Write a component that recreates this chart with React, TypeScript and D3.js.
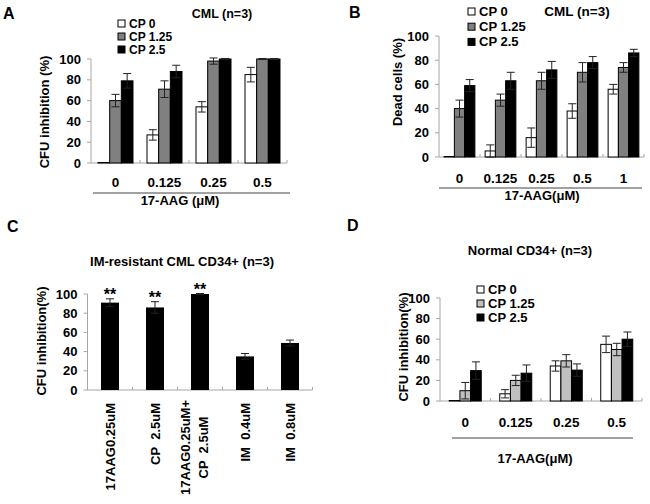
import React from 'react';
import * as d3 from 'd3';

const FONT = '"Liberation Sans", Arial, sans-serif';
const AXIS = '#a6a6a6';

const seriesNames = ['CP 0', 'CP 1.25', 'CP 2.5'];
const yTicks = [0, 20, 40, 60, 80, 100];

// panel A: CFU inhibition, CML
const aDoses = ['0', '0.125', '0.25', '0.5'];
const aCP0 = [0, 27, 54, 85];
const aCP0Err = [0, 5, 5, 7];
const aCP125 = [60, 71, 98, 100];
const aCP125Err = [6, 8, 3, 0.5];
const aCP25 = [79, 88, 100, 100];
const aCP25Err = [7, 6, 0.5, 0.5];

// panel B: dead cells, CML
const bDoses = ['0', '0.125', '0.25', '0.5', '1'];
const bCP0 = [0, 5, 16, 38, 56];
const bCP0Err = [0, 5, 8, 6, 4];
const bCP125 = [40, 47, 63, 70, 74];
const bCP125Err = [7, 5, 7, 8, 4];
const bCP25 = [59, 63, 72, 78, 86];
const bCP25Err = [5, 7, 7, 5, 3];

// panel C: IM-resistant CML CD34+
const cLabels = [['17AAG0.25uM'], ['CP  2.5uM'], ['17AAG0.25uM+', 'CP  2.5uM'], ['IM  0.4uM'], ['IM  0.8uM']];
const cValues = [91, 86, 100, 35, 49];
const cErr = [4, 6, 0.5, 3, 3];
const cSig = ['**', '**', '**', '', ''];

// panel D: normal CD34+
const dDoses = ['0', '0.125', '0.25', '0.5'];
const dCP0 = [0, 7, 34, 55];
const dCP0Err = [0, 4, 5, 8];
const dCP125 = [10, 20, 39, 50];
const dCP125Err = [8, 5, 6, 6];
const dCP25 = [29.5, 27, 30, 60];
const dCP25Err = [8.5, 8, 6, 7];

const txt = { fontFamily: FONT, fontWeight: 700, fill: '#000' } as const;

function YAxis({ x0, y }: any) {
  return (
    <g>
      <line x1={x0} x2={x0} y1={y(0)} y2={y(100)} stroke={AXIS} />
      {yTicks.map((t) => (
        <g key={t}>
          <line x1={x0 - 4} x2={x0} y1={y(t)} y2={y(t)} stroke={AXIS} />
          <text x={x0 - 10} y={y(t)} dy="0.35em" textAnchor="end" fontSize={13} {...txt}>{t}</text>
        </g>
      ))}
    </g>
  );
}

function ErrBar({ cx, top, bot, w = 8 }: any) {
  return (
    <g stroke="#222" strokeWidth={1}>
      <line x1={cx} x2={cx} y1={top} y2={bot} />
      <line x1={cx - w / 2} x2={cx + w / 2} y1={top} y2={top} />
      <line x1={cx - w / 2} x2={cx + w / 2} y1={bot} y2={bot} />
    </g>
  );
}

function GroupedPanel(p: any) {
  const { doses, series, fills, x0, x1, y0, y1, pad } = p;
  const x = d3.scaleBand().domain(doses).range([x0, x1]).paddingInner(pad).paddingOuter(pad / 2);
  const xs = d3.scaleBand().domain(seriesNames).range([0, x.bandwidth()]);
  const y = d3.scaleLinear().domain([0, 100]).range([y0, y1]);
  const gap = (x.step() * pad) / 2;
  const lf = p.legendSize || 13;
  return (
    <g>
      <text x={p.letter[1]} y={p.letter[2]} fontSize={16} {...txt}>{p.letter[0]}</text>
      <text x={p.title[1]} y={p.title[2]} fontSize={p.titleSize || 13} textAnchor="middle" {...txt}>{p.title[0]}</text>
      <YAxis x0={x0} y={y} />
      <line x1={x0} x2={x1} y1={y(0)} y2={y(0)} stroke={AXIS} />
      {doses.slice(1).map((d: string) => (
        <line key={d} x1={x(d)! - gap} x2={x(d)! - gap} y1={y(0)} y2={y(0) - 3} stroke={AXIS} />
      ))}
      <line x1={x1} x2={x1} y1={y(0)} y2={y(0) - 3} stroke={AXIS} />
      {series.map((s: any, si: number) =>
        doses.map((d: string, i: number) => {
          const bx = x(d)! + xs(seriesNames[si])!;
          const v = s.values[i];
          const h = Math.max(y(0) - y(v), 0.5);
          return (
            <g key={d + si}>
              <rect x={bx} y={y(0) - h} width={xs.bandwidth()} height={h} fill={fills[si]} stroke="#000" strokeWidth={1} />
              {s.errors[i] > 0 && (
                <ErrBar cx={bx + xs.bandwidth() / 2} top={y(v + s.errors[i])} bot={y(v - s.errors[i])} />
              )}
            </g>
          );
        })
      )}
      {doses.map((d: string) => (
        <text key={d} x={x(d)! + x.bandwidth() / 2} y={p.catY} textAnchor="middle" fontSize={13.5} {...txt}>{d}</text>
      ))}
      <line x1={p.rule[0]} x2={p.rule[1]} y1={p.rule[2]} y2={p.rule[2]} stroke="#444" />
      <text x={p.xTitle[1]} y={p.xTitle[2]} textAnchor="middle" fontSize={13} {...txt}>{p.xTitle[0]}</text>
      <text transform={`translate(${p.yTitle[1]},${p.yTitle[2]}) rotate(-90)`} textAnchor="middle" fontSize={13} {...txt}>{p.yTitle[0]}</text>
      {seriesNames.map((n, si) => (
        <g key={n}>
          <rect x={p.legend[0]} y={p.legend[1] + si * p.legend[2] - 8} width={7} height={7} fill={fills[si]} stroke="#000" />
          <text x={p.legend[0] + 11} y={p.legend[1] + si * p.legend[2]} fontSize={lf} {...txt}>{n}</text>
        </g>
      ))}
    </g>
  );
}

function PanelC() {
  const x0 = 87.5, x1 = 312.5;
  const x = d3.scaleBand().domain(cLabels.map((l) => l.join(' '))).range([x0, x1]).paddingInner(0.6).paddingOuter(0.3);
  const y = d3.scaleLinear().domain([0, 100]).range([390, 294]);
  const gap = x.step() * 0.3;
  return (
    <g>
      <text x={7} y={232} fontSize={16} {...txt}>C</text>
      <text x={182} y={266} textAnchor="middle" fontSize={13} {...txt}>IM-resistant CML CD34+ (n=3)</text>
      <YAxis x0={x0} y={y} />
      <line x1={x0} x2={x1} y1={y(0)} y2={y(0)} stroke={AXIS} />
      {cLabels.slice(1).map((l) => (
        <line key={l.join(' ')} x1={x(l.join(' '))! - gap} x2={x(l.join(' '))! - gap} y1={y(0)} y2={y(0) - 3} stroke={AXIS} />
      ))}
      <line x1={x1} x2={x1} y1={y(0)} y2={y(0) - 3} stroke={AXIS} />
      {cLabels.map((l, i) => {
        const k = l.join(' ');
        const cx = x(k)! + x.bandwidth() / 2;
        const top = y(cValues[i] + cErr[i]);
        return (
          <g key={k}>
            <rect x={x(k)} y={y(cValues[i])} width={x.bandwidth()} height={y(0) - y(cValues[i])} fill="#000" />
            <ErrBar cx={cx} top={top} bot={y(cValues[i] - cErr[i])} />
            {cSig[i] && (
              <text x={cx} y={top + 1} textAnchor="middle" fontSize={16} {...txt}>{cSig[i]}</text>
            )}
            {l.length === 1 ? (
              <text transform={`translate(${cx + 4.5},403) rotate(-90)`} textAnchor="end" fontSize={13} style={{ whiteSpace: 'pre' }} {...txt}>{l[0]}</text>
            ) : (
              l.map((line, li) => (
                <text key={li} transform={`translate(${cx - 10 + li * 18},447.5) rotate(-90)`} textAnchor="middle" fontSize={13} style={{ whiteSpace: 'pre' }} {...txt}>{line}</text>
              ))
            )}
          </g>
        );
      })}
      <text transform="translate(46,341) rotate(-90)" textAnchor="middle" fontSize={13} {...txt}>CFU inhibition(%)</text>
    </g>
  );
}

export default function App() {
  return (
    <svg width={650} height={504} style={{ position: 'absolute', left: 0, top: 0, background: '#fff' }}>
      <rect width={650} height={504} fill="#fff" />
      <GroupedPanel
        doses={aDoses}
        series={[
          { values: aCP0, errors: aCP0Err },
          { values: aCP125, errors: aCP125Err },
          { values: aCP25, errors: aCP25Err },
        ]}
        fills={['#fff', '#808080', '#000']}
        x0={91} x1={287} y0={163} y1={59} pad={0.286}
        letter={['A', 3, 19]}
        title={['CML (n=3)', 222, 18]}
        titleSize={12.5}
        legend={[118, 28, 13]}
        legendSize={12}
        catY={187}
        rule={[93, 290, 193]}
        xTitle={['17-AAG (μM)', 180, 205]}
        yTitle={['CFU inhibition (%)', 49, 112]}
      />
      <GroupedPanel
        doses={bDoses}
        series={[
          { values: bCP0, errors: bCP0Err },
          { values: bCP125, errors: bCP125Err },
          { values: bCP25, errors: bCP25Err },
        ]}
        fills={['#fff', '#808080', '#000']}
        x0={439} x1={644} y0={157} y1={36} pad={0.25}
        letter={['B', 349, 18]}
        title={['CML (n=3)', 577, 16]}
        titleSize={13.5}
        legend={[468, 16, 15.2]}
        catY={183}
        rule={[439, 642, 188]}
        xTitle={['17-AAG(μM)', 542, 200]}
        yTitle={['Dead cells (%)', 402, 82]}
      />
      <PanelC />
      <GroupedPanel
        doses={dDoses}
        series={[
          { values: dCP0, errors: dCP0Err },
          { values: dCP125, errors: dCP125Err },
          { values: dCP25, errors: dCP25Err },
        ]}
        fills={['#fff', '#c0c0c0', '#000']}
        x0={440} x1={642} y0={401} y1={298} pad={0.366}
        letter={['D', 347, 231]}
        title={['Normal CD34+ (n=3)', 530, 255]}
        legend={[477, 294, 14]}
        catY={427}
        rule={[452, 633, 438]}
        xTitle={['17-AAG(μM)', 535, 463]}
        yTitle={['CFU inhibition(%)', 408, 347]}
      />
    </svg>
  );
}
